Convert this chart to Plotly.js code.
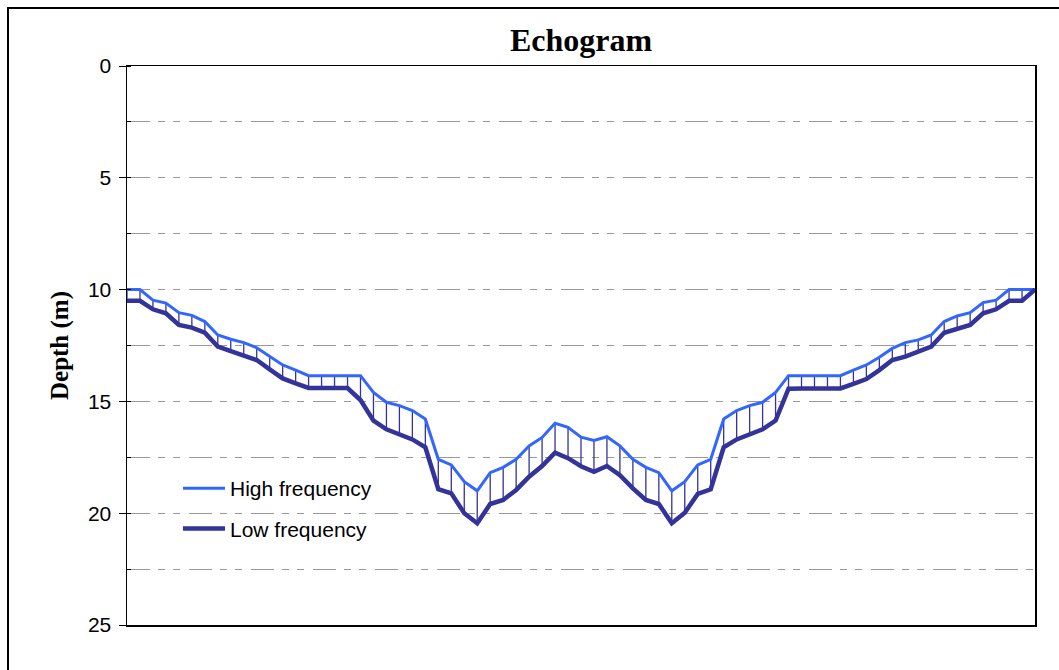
<!DOCTYPE html>
<html>
<head>
<meta charset="utf-8">
<script src="https://cdn.plot.ly/plotly-3.0.1.min.js"></script>
<style>
html,body{margin:0;padding:0;background:#fff;}
#chart{width:1059px;height:670px;}
</style>
</head>
<body>
<div id="chart"></div>
<script>
// Sounding positions (category index along the transect)
var positions = [];
for (var p = 0; p <= 70; p++) positions.push(p);

// Depth (m) of the high-frequency echo
var highFreq = [
  10.0, 10.0, 10.47, 10.6, 11.03, 11.15, 11.43, 12.03, 12.22, 12.37,
  12.6, 12.97, 13.37, 13.6, 13.85, 13.85, 13.85, 13.85, 13.85, 14.6,
  15.04, 15.19, 15.41, 15.79, 17.59, 17.84, 18.59, 19.0, 18.19, 17.95,
  17.59, 16.99, 16.61, 15.98, 16.16, 16.6, 16.75, 16.58, 16.99, 17.59,
  17.95, 18.19, 19.0, 18.59, 17.84, 17.59, 15.79, 15.41, 15.19, 15.04,
  14.6, 13.85, 13.85, 13.85, 13.85, 13.85, 13.6, 13.37, 13.03, 12.63,
  12.37, 12.25, 12.03, 11.43, 11.18, 11.03, 10.58, 10.47, 10.0, 10.0,
  10.0
];

// Depth (m) of the low-frequency echo
var lowFreq = [
  10.5, 10.5, 10.88, 11.06, 11.58, 11.7, 11.93, 12.55, 12.75, 12.97,
  13.15, 13.57, 13.97, 14.19, 14.4, 14.4, 14.4, 14.4, 14.94, 15.86,
  16.25, 16.46, 16.7, 17.05, 18.93, 19.11, 20.0, 20.45, 19.59, 19.41,
  18.96, 18.37, 17.89, 17.29, 17.54, 17.9, 18.15, 17.89, 18.3, 18.89,
  19.41, 19.59, 20.45, 19.98, 19.14, 18.93, 17.05, 16.7, 16.46, 16.25,
  15.86, 14.43, 14.42, 14.42, 14.42, 14.42, 14.22, 14.0, 13.6, 13.15,
  13.0, 12.78, 12.55, 11.93, 11.73, 11.58, 11.06, 10.88, 10.5, 10.5,
  10.0
];

var seriesNames = ["High frequency", "Low frequency"];
var chartTitle = "Echogram";
var yTitle = "Depth (m)";

// High-low connector lines built from the two series
var dropX = [], dropY = [];
for (var i = 0; i < positions.length; i++) {
  dropX.push(positions[i], positions[i], null);
  dropY.push(highFreq[i], lowFreq[i], null);
}

var gridDash = "23px,8px,7px,8px,7px,9px";

var traces = [
  {
    x: dropX, y: dropY, mode: "lines", type: "scatter",
    line: {color: "#333399", width: 1.3},
    showlegend: false, hoverinfo: "skip"
  },
  {
    x: positions, y: highFreq, mode: "lines", type: "scatter",
    name: seriesNames[0], legendgroup: "a",
    line: {color: "#3366FF", width: 3}
  },
  {
    x: positions, y: lowFreq, mode: "lines", type: "scatter",
    name: seriesNames[1], legendgroup: "b",
    line: {color: "#333399", width: 4.5}
  }
];

var L = 127, R = 1035, T = 66, B = 625;
var W = R - L, H = B - T;
function px(x){ return (x - L) / W; }
function py(y){ return (B - y) / H; }

var layout = {
  width: 1059, height: 670,
  margin: {l: L, r: 1059 - R, t: T, b: 670 - B, pad: 0},
  paper_bgcolor: "#fff", plot_bgcolor: "#fff",
  showlegend: true,
  title: {
    text: "<b>" + chartTitle + "</b>",
    font: {family: "Liberation Serif", size: 32, color: "#000"},
    xref: "paper", x: 0.5, xanchor: "center",
    yref: "container", y: 1 - 40/670, yanchor: "middle"
  },
  xaxis: {
    range: [0, 70],
    showticklabels: false, ticks: "",
    showgrid: false, zeroline: false,
    showline: true, mirror: true, linecolor: "#000", linewidth: 1.5
  },
  yaxis: {
    range: [25, 0],
    dtick: 5, tick0: 0,
    ticks: "outside", ticklen: 7, tickwidth: 1, tickcolor: "#000",
    ticklabelstandoff: 3,
    tickfont: {family: "Liberation Sans", size: 21, color: "#000"},
    showgrid: true, gridcolor: "#999999", gridwidth: 1, griddash: gridDash,
    zeroline: false,
    showline: true, mirror: true, linecolor: "#000", linewidth: 1.5,
    minor: {
      dtick: 2.5, ticks: "inside", ticklen: 4, tickcolor: "#000",
      showgrid: true, gridcolor: "#999999", gridwidth: 1, griddash: gridDash
    },
    title: {
      text: "<b>" + yTitle + "</b>",
      font: {family: "Liberation Serif", size: 25, color: "#000"},
      standoff: 12
    }
  },
  legend: {
    x: px(178), y: py(468), xanchor: "left", yanchor: "top",
    bgcolor: "rgba(0,0,0,0)", borderwidth: 0,
    font: {family: "Liberation Sans", size: 21, color: "#000"},
    itemwidth: 42, tracegroupgap: 10
  },
  shapes: [
    {
      type: "rect", xref: "paper", yref: "paper",
      x0: px(8), x1: px(1070), y0: py(8), y1: py(690),
      line: {color: "#000", width: 2}, fillcolor: "rgba(0,0,0,0)", layer: "above"
    }
  ]
};

Plotly.newPlot("chart", traces, layout, {displayModeBar: false, staticPlot: true});
</script>
</body>
</html>
